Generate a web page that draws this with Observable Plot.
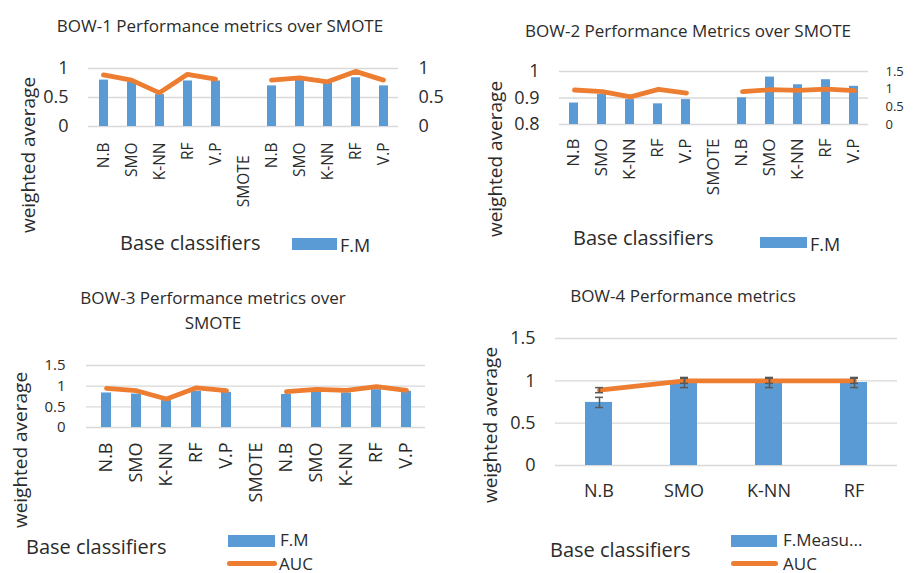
<!DOCTYPE html>
<html><head><meta charset="utf-8">
<script src="https://cdn.jsdelivr.net/npm/d3@7"></script>
<script src="https://cdn.jsdelivr.net/npm/@observablehq/plot@0.6"></script>
<style>
body{margin:0;background:#fff;}
#chart{position:relative;width:915px;height:573px;overflow:hidden;background:#fff;font-family:'Open Sans',sans-serif;color:#2b2b2b;}
#chart svg{position:absolute;left:0;top:0;}
.t{position:absolute;white-space:nowrap;line-height:1;}
.sw{position:absolute;}
</style></head><body><div id="chart"></div>
<script>
// ---------- data ----------
const categories = ["N.B","SMO","K-NN","RF","V.P","SMOTE","N.B","SMO","K-NN","RF","V.P"];
const bow1FM  = [0.80, 0.76, 0.55, 0.785, 0.785, null, 0.70, 0.80, 0.745, 0.84, 0.70];
const bow1AUC = [0.89, 0.80, 0.58, 0.90, 0.815, null, 0.80, 0.84, 0.77, 0.95, 0.80];
const bow2FM  = [0.881, 0.913, 0.894, 0.878, 0.894, null, 0.901, 0.979, 0.950, 0.969, 0.944];
const bow2AUC = [0.976, 0.929, 0.78, 0.994, 0.891, null, 0.929, 0.985, 0.966, 1.0, 0.957];
const bow3FM  = [0.835, 0.81, 0.65, 0.875, 0.85, null, 0.80, 0.875, 0.835, 0.915, 0.875];
const bow3AUC = [0.947, 0.89, 0.69, 0.96, 0.89, null, 0.866, 0.92, 0.90, 0.99, 0.90];
const bow4Categories = ["N.B","SMO","K-NN","RF"];
const bow4FM   = [0.745, 0.98, 0.98, 0.98];
const bow4FMErr = [0.06, 0.06, 0.06, 0.06];
const bow4AUC  = [0.89, 1.0, 1.0, 1.0];
const bow4AUCErr = [0.03, 0.03, 0.03, 0.03];
const ticks01 = [0, 0.5, 1];
const ticks015 = [0, 0.5, 1, 1.5];
const ticksBow2 = [0.8, 0.9, 1];
const titles = ["BOW-1 Performance metrics over SMOTE","BOW-2 Performance Metrics over SMOTE",
                "BOW-3 Performance metrics over","SMOTE","BOW-4 Performance metrics"];

// ---------- style ----------
const W = 915, H = 573;
const FONT = "'Open Sans', sans-serif";
const BLUE = "#5b9bd5", ORANGE = "#ed7d31", GRID = "#d9d9d9", INK = "#2b2b2b", ERR = "#595959";
const chart = document.getElementById("chart");

function frame(b) {
  return {width: W, height: H, marginLeft: b.x0, marginRight: W - b.x1, marginTop: b.y0, marginBottom: H - b.y1,
    style: {background: "transparent", fontFamily: FONT, color: INK, overflow: "visible"}};
}
function add(svg) { chart.appendChild(svg); }

function barsPlot(b, labels, values, yDomain, yTicks, o) {
  const idx = d3.range(labels.length);
  const rows = idx.map(i => ({i, v: values[i]})).filter(d => d.v != null);
  const base = yDomain[0];
  const mainTicks = idx.filter(i => !(o.dropTick != null && i === o.dropTick));
  const marks = [
    Plot.gridY(yTicks, {stroke: GRID, strokeOpacity: 1, strokeWidth: 1.3}),
    Plot.barY(rows, {x: "i", y1: d => base, y2: "v", fill: BLUE}),
    Plot.axisY({ticks: yTicks, tickSize: 0, tickPadding: o.yPad, fontSize: o.yFont, label: null, tickFormat: d => String(d)}),
    Plot.axisX({ticks: mainTicks, tickFormat: i => labels[i], tickRotate: o.rotate, tickSize: 0,
      tickPadding: o.xPad, fontSize: o.xFont, label: null})
  ];
  if (o.dropTick != null) {
    marks.push(Plot.axisX({ticks: [o.dropTick], tickFormat: i => labels[i], tickRotate: o.rotate, tickSize: 0,
      tickPadding: o.dropPad, fontSize: o.xFont, label: null}));
  }
  add(Plot.plot({...frame(b),
    x: {type: "band", domain: idx, paddingInner: 0.68, paddingOuter: 0.34},
    y: {domain: yDomain},
    marks}));
}

function linePlot(b, n, values, yDomain, o = {}) {
  const idx = d3.range(n);
  const rows = idx.map(i => ({i, v: values[i]}));
  const marks = [
    Plot.line(rows, {x: "i", y: "v", stroke: ORANGE, strokeWidth: 4.8, strokeLinejoin: "round", strokeLinecap: "round"})
  ];
  if (o.errors) {
    for (const [vals, errs] of o.errors) {
      const er = idx.map(i => ({i, lo: vals[i] - errs[i], hi: vals[i] + errs[i]}));
      marks.push(Plot.ruleX(er, {x: "i", y1: "lo", y2: "hi", stroke: ERR, strokeWidth: 1.5}));
      marks.push(Plot.ruleY(er, {x1: "i", x2: "i", y: "lo", insetLeft: -4, insetRight: -4, stroke: ERR, strokeWidth: 1.5}));
      marks.push(Plot.ruleY(er, {x1: "i", x2: "i", y: "hi", insetLeft: -4, insetRight: -4, stroke: ERR, strokeWidth: 1.5}));
    }
  }
  if (o.rightTicks) {
    marks.push(Plot.axisY({anchor: "right", ticks: o.rightTicks, tickSize: 0, tickPadding: o.rPad, fontSize: o.rFont,
      label: null, tickFormat: d => String(d)}));
  }
  add(Plot.plot({...frame(b),
    x: {type: "point", domain: idx, padding: 0.5, axis: null},
    y: {domain: yDomain, ...(o.rightTicks ? {} : {axis: null})},
    marks}));
}

function text(txt, x, y, {size = 16, anchor = "middle", rotate = false} = {}) {
  const el = document.createElement("div");
  el.className = "t";
  el.textContent = txt;
  el.style.left = x + "px"; el.style.top = y + "px"; el.style.fontSize = size + "px";
  const tx = anchor === "middle" ? "-50%" : anchor === "end" ? "-100%" : "0";
  el.style.transform = rotate ? "translate(-50%,-50%) rotate(-90deg)" : `translate(${tx},-50%)`;
  chart.appendChild(el);
}
function swatchBar(x, y, w, h) {
  const el = document.createElement("div");
  el.className = "sw";
  Object.assign(el.style, {left: x + "px", top: y + "px", width: w + "px", height: h + "px", background: BLUE});
  chart.appendChild(el);
}
function swatchLine(x, y, w) {
  const el = document.createElement("div");
  el.className = "sw";
  Object.assign(el.style, {left: x + "px", top: (y - 2.5) + "px", width: w + "px", height: "5px", background: ORANGE, borderRadius: "3px"});
  chart.appendChild(el);
}

// ---------- panel 1 ----------
const b1 = {x0: 88, x1: 398, y0: 68, y1: 126};
barsPlot(b1, categories, bow1FM, [0, 1], ticks01, {yPad: 20, yFont: 18, rotate: -90, xPad: 16, xFont: 15.5, dropTick: 5, dropPad: 29});
linePlot(b1, categories.length, bow1AUC, [0, 1], {rightTicks: ticks01, rPad: 20, rFont: 18});
text(titles[0], 220, 25, {size: 17});
text("weighted average", 28, 155, {size: 19, rotate: true});
text("Base classifiers", 120, 243, {size: 20, anchor: "start"});
swatchBar(292, 238, 45, 12);
text("F.M", 340, 245, {size: 18, anchor: "start"});

// ---------- panel 2 ----------
const b2 = {x0: 559, x1: 868, y0: 71, y1: 124};
barsPlot(b2, categories, bow2FM, [0.8, 1], ticksBow2, {yPad: 20, yFont: 18, rotate: -90, xPad: 14, xFont: 17});
linePlot(b2, categories.length, bow2AUC, [0, 1.5], {rightTicks: ticks015, rPad: 17, rFont: 13});
text(titles[1], 688, 30, {size: 17});
text("weighted average", 495, 159, {size: 19, rotate: true});
text("Base classifiers", 573, 238, {size: 20, anchor: "start"});
swatchBar(760, 237, 47, 11);
text("F.M", 810, 244, {size: 18, anchor: "start"});

// ---------- panel 3 ----------
const b3 = {x0: 86, x1: 425, y0: 365, y1: 427};
barsPlot(b3, categories, bow3FM, [0, 1.5], ticks015, {yPad: 21, yFont: 15, rotate: -90, xPad: 15, xFont: 18});
linePlot(b3, categories.length, bow3AUC, [0, 1.5]);
text(titles[2], 213, 297, {size: 17});
text(titles[3], 213, 322, {size: 17});
text("weighted average", 20, 450, {size: 19, rotate: true});
text("Base classifiers", 26, 547, {size: 20, anchor: "start"});
swatchBar(228, 535, 47, 12);
text("F.M", 280, 539, {size: 17, anchor: "start"});
swatchLine(227, 563, 50);
text("AUC", 279, 563, {size: 17, anchor: "start"});

// ---------- panel 4 ----------
const b4 = {x0: 555, x1: 897, y0: 338, y1: 465};
barsPlot(b4, bow4Categories, bow4FM, [0, 1.5], ticks015, {yPad: 20, yFont: 18, rotate: 0, xPad: 19, xFont: 18});
linePlot(b4, bow4Categories.length, bow4AUC, [0, 1.5], {errors: [[bow4FM, bow4FMErr], [bow4AUC, bow4AUCErr]]});
text(titles[4], 683, 295, {size: 17});
text("weighted average", 490, 425, {size: 19, rotate: true});
text("Base classifiers", 550, 550, {size: 20, anchor: "start"});
swatchBar(731, 535, 46, 12);
text("F.Measu...", 783, 539, {size: 17, anchor: "start"});
swatchLine(731, 563, 47);
text("AUC", 783, 563, {size: 17, anchor: "start"});
</script></body></html>
